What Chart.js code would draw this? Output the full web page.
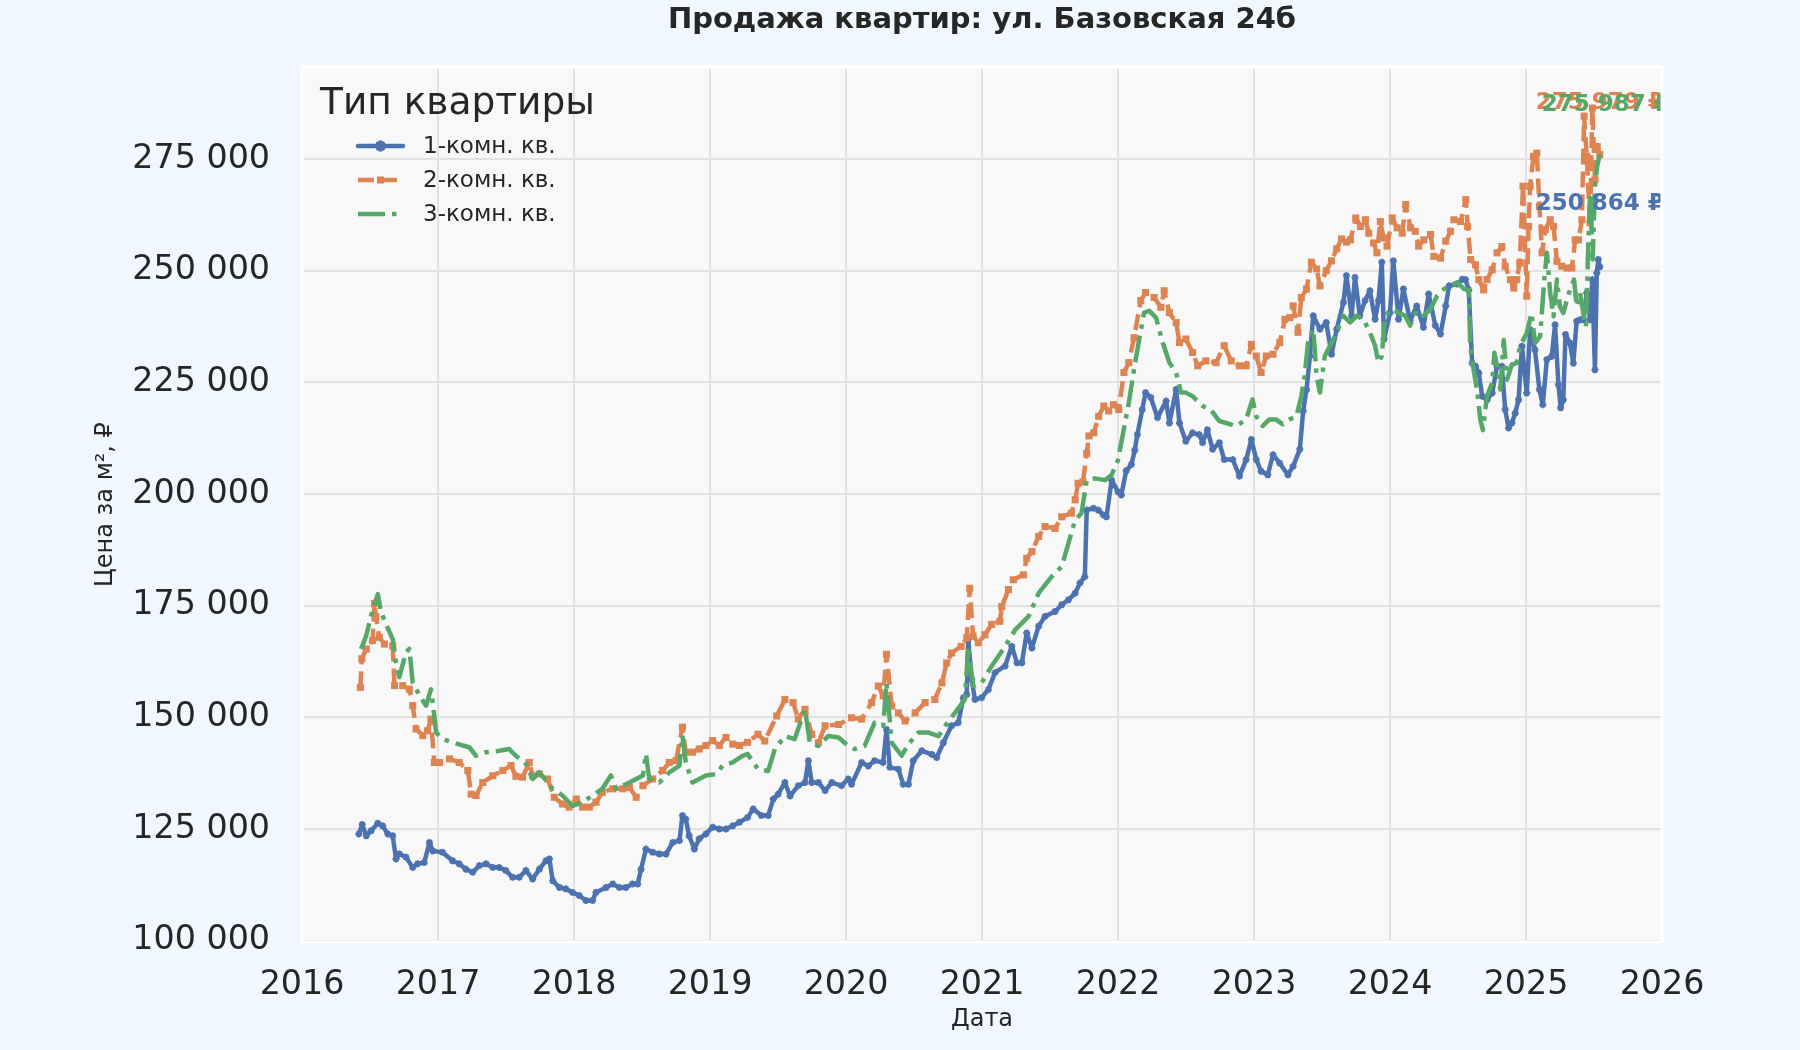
<!DOCTYPE html>
<html>
<head>
<meta charset="utf-8">
<script src="https://cdn.jsdelivr.net/npm/chart.js@4.4.1/dist/chart.umd.min.js"></script>
<style>
  html, body { margin: 0; padding: 0; background: #f0f7ff; }
  canvas { display: block; }
</style>
</head>
<body>
<canvas id="c" width="1800" height="1050"></canvas>
<script>
// ---------------- DATA ----------------
const chartTitle = 'Продажа квартир: ул. Базовская 24б';
const xAxisTitle = 'Дата';
const yAxisTitle = 'Цена за м², ₽';
const legendTitle = 'Тип квартиры';
const seriesNames = ['1-комн. кв.', '2-комн. кв.', '3-комн. кв.'];
const xTickYears = [2016, 2017, 2018, 2019, 2020, 2021, 2022, 2023, 2024, 2025, 2026];
const yTickValues = [100000, 125000, 150000, 175000, 200000, 225000, 250000, 275000];

const blueDates = [
'2016-06-02','2016-06-11','2016-06-22','2016-07-05','2016-07-23','2016-08-05','2016-08-19','2016-09-01','2016-09-10','2016-09-19',
'2016-10-07','2016-10-25','2016-11-07','2016-11-25','2016-12-09','2016-12-18','2017-01-13','2017-02-09','2017-02-27','2017-03-17',
'2017-04-04','2017-04-22','2017-05-10','2017-05-28','2017-06-14','2017-07-02','2017-07-20','2017-08-07','2017-08-25','2017-09-12',
'2017-09-30','2017-10-18','2017-10-27','2017-11-05','2017-11-23','2017-12-10','2017-12-28','2018-01-15','2018-02-02','2018-02-20',
'2018-03-01','2018-03-28','2018-04-15','2018-05-03','2018-05-20','2018-06-07','2018-06-21','2018-06-30','2018-07-13','2018-07-31',
'2018-08-18','2018-09-05','2018-09-23','2018-10-11','2018-10-19','2018-10-28','2018-11-06','2018-11-20','2018-12-03','2018-12-21',
'2019-01-08','2019-01-26','2019-02-13','2019-03-03','2019-03-21','2019-04-12','2019-04-27','2019-05-19','2019-06-06','2019-06-20',
'2019-07-03','2019-07-21','2019-08-04','2019-08-26','2019-09-13','2019-09-22','2019-10-01','2019-10-19','2019-11-06','2019-11-24',
'2019-12-20','2020-01-07','2020-01-16','2020-02-12','2020-03-01','2020-03-18','2020-04-10','2020-04-19','2020-04-28','2020-05-21',
'2020-06-03','2020-06-17','2020-06-30','2020-07-23','2020-08-19','2020-09-01','2020-09-19','2020-10-11','2020-10-29','2020-11-12',
'2020-11-21','2020-11-25','2020-12-04','2020-12-13','2020-12-31','2021-01-18','2021-02-05','2021-03-04','2021-03-22','2021-04-05',
'2021-04-18','2021-05-01','2021-05-15','2021-06-02','2021-06-19','2021-07-16','2021-08-03','2021-08-21','2021-09-08','2021-09-21',
'2021-10-04','2021-10-09','2021-10-27','2021-11-09','2021-11-23','2021-12-01','2021-12-15','2022-01-01','2022-01-10','2022-01-23',
'2022-02-06','2022-02-15','2022-02-22','2022-03-07','2022-03-16','2022-03-30','2022-04-17','2022-05-10','2022-05-19','2022-06-06',
'2022-06-15','2022-07-02','2022-07-20','2022-08-07','2022-08-16','2022-08-29','2022-09-12','2022-09-30','2022-10-13','2022-11-05',
'2022-11-23','2022-12-11','2022-12-25','2023-01-07','2023-01-20','2023-02-07','2023-02-21','2023-03-11','2023-04-02','2023-04-16',
'2023-05-04','2023-05-13','2023-05-22','2023-05-31','2023-06-09','2023-06-27','2023-07-14','2023-07-28','2023-08-11','2023-08-29',
'2023-09-06','2023-09-20','2023-09-29','2023-10-12','2023-10-26','2023-11-08','2023-11-22','2023-12-01','2023-12-10','2023-12-16',
'2024-01-01','2024-01-10','2024-01-24','2024-02-06','2024-02-24','2024-03-13','2024-03-31','2024-04-14','2024-05-02','2024-05-16',
'2024-05-30','2024-06-08','2024-06-30','2024-07-14','2024-07-22','2024-07-31','2024-08-09','2024-08-18','2024-08-27','2024-09-05',
'2024-09-18','2024-10-02','2024-10-15','2024-10-28','2024-11-06','2024-11-15','2024-11-24','2024-12-03','2024-12-12','2024-12-21',
'2025-01-03','2025-01-12','2025-01-25','2025-02-06','2025-02-15','2025-02-26','2025-03-11','2025-03-20','2025-03-29','2025-04-04',
'2025-04-11','2025-04-17','2025-04-29','2025-05-08','2025-05-17','2025-05-26','2025-06-04','2025-06-13','2025-06-22','2025-06-28',
'2025-07-05','2025-07-10','2025-07-14','2025-07-18'
];
const blueValues = [
123900,126000,123500,124600,126300,125700,123900,123500,118300,119400,
118700,116400,117200,117500,122000,120100,119800,117900,117200,116000,
115300,116800,117200,116400,116400,115700,114200,114200,115700,113800,
116000,117900,118300,113400,111900,111600,110800,110100,109000,109000,
110800,111900,112700,111900,111900,112700,112700,116000,120500,119800,
119400,119400,122000,122400,128000,127200,123500,120500,122800,123900,
125400,125000,125000,125700,126500,127600,129500,128000,128000,131700,
132800,135400,132400,134700,135400,140300,135400,135400,133600,135400,
134700,136200,135000,139900,139100,140300,139900,147300,138800,138400,
135000,135000,140300,142500,141700,141000,144300,148100,148800,154400,
155100,167400,158500,154000,154400,156200,160000,161500,165900,162200,
162200,168900,165500,170400,172600,173700,175200,176300,177800,180100,
181500,196400,196800,196400,195300,194900,203100,200500,199800,205200,
206600,209800,213300,218900,222700,221600,217100,220800,215900,223400,
215900,211800,213700,213300,211500,214400,210000,211500,207700,207700,
204000,207700,212200,207700,205100,204300,208800,206900,204300,206200,
210000,218600,223400,230900,239900,236900,238400,231300,236900,242900,
248900,239900,248500,239900,243300,245500,239100,243300,251900,234700,
240600,252200,239100,245900,238800,242100,237300,244800,237700,235800,
242100,246600,247000,248100,248000,245700,229300,228600,227100,221900,
221100,222600,228600,228600,218900,214800,215900,218100,221100,233100,
222600,236800,232300,223400,220000,230100,230800,237900,224500,219300,
221100,235700,233800,229300,238700,239000,239000,245000,239000,248000,
227800,249500,252500,250864
];

const orangeDates = [
'2016-06-06','2016-06-10','2016-06-22','2016-07-09','2016-07-14','2016-07-18','2016-07-27','2016-08-10','2016-09-01','2016-09-06',
'2016-09-28','2016-10-16','2016-10-25','2016-11-03','2016-11-21','2016-12-04','2016-12-13','2016-12-22','2017-01-05','2017-02-01',
'2017-02-27','2017-03-22','2017-03-31','2017-04-13','2017-05-01','2017-05-28','2017-06-24','2017-07-16','2017-07-29','2017-08-16',
'2017-09-03','2017-09-12','2017-09-30','2017-10-22','2017-11-09','2017-12-01','2017-12-19','2018-01-07','2018-01-24','2018-02-11',
'2018-03-01','2018-03-18','2018-04-15','2018-05-12','2018-05-30','2018-06-17','2018-07-05','2018-07-31','2018-08-27','2018-09-14',
'2018-10-02','2018-10-19','2018-10-28','2018-11-15','2018-12-03','2018-12-21','2019-01-08','2019-01-26','2019-02-13','2019-03-03',
'2019-03-21','2019-04-12','2019-05-10','2019-05-28','2019-06-29','2019-07-21','2019-08-12','2019-08-26','2019-09-13','2019-10-01',
'2019-10-19','2019-11-06','2019-12-12','2020-01-16','2020-02-12','2020-03-10','2020-03-28','2020-04-10','2020-04-19','2020-05-03',
'2020-05-21','2020-06-08','2020-07-05','2020-08-01','2020-08-27','2020-09-15','2020-09-28','2020-10-11','2020-11-06','2020-11-21',
'2020-11-29','2020-12-08','2020-12-22','2021-01-09','2021-01-27','2021-02-18','2021-02-23','2021-03-13','2021-03-26','2021-04-22',
'2021-05-01','2021-05-15','2021-06-02','2021-06-19','2021-07-16','2021-08-03','2021-08-29','2021-09-08','2021-09-16','2021-09-29',
'2021-10-09','2021-10-15','2021-10-28','2021-11-10','2021-11-24','2021-12-07','2021-12-20','2022-01-03','2022-01-17','2022-01-30',
'2022-02-13','2022-03-03','2022-03-16','2022-04-08','2022-04-26','2022-05-05','2022-05-19','2022-06-06','2022-06-15','2022-07-02',
'2022-07-20','2022-08-03','2022-08-25','2022-09-21','2022-10-13','2022-11-01','2022-11-23','2022-12-11','2022-12-25','2023-01-07',
'2023-01-20','2023-02-03','2023-02-21','2023-03-11','2023-03-25','2023-04-07','2023-04-16','2023-04-29','2023-05-08','2023-05-22',
'2023-06-04','2023-06-18','2023-06-27','2023-07-14','2023-07-28','2023-08-11','2023-08-24','2023-09-06','2023-09-17','2023-10-01',
'2023-10-14','2023-10-27','2023-11-05','2023-11-18','2023-11-27','2023-12-06','2023-12-15','2023-12-24','2024-01-07','2024-01-20',
'2024-02-03','2024-02-12','2024-02-25','2024-03-09','2024-03-18','2024-04-01','2024-04-19','2024-04-28','2024-05-16','2024-05-30',
'2024-06-12','2024-06-21','2024-07-09','2024-07-23','2024-07-28','2024-08-05','2024-08-18','2024-08-27','2024-09-09','2024-09-18',
'2024-10-02','2024-10-15','2024-10-28','2024-11-06','2024-11-20','2024-11-29','2024-12-07','2024-12-15','2024-12-24','2025-01-03',
'2025-01-08','2025-01-12','2025-01-21','2025-01-30','2025-02-06','2025-02-13','2025-02-22','2025-03-07','2025-03-16','2025-03-25',
'2025-04-07','2025-04-21','2025-05-04','2025-05-13','2025-05-22','2025-05-31','2025-06-06','2025-06-13','2025-06-22','2025-06-28',
'2025-07-05','2025-07-11','2025-07-18'
];
const orangeValues = [
156700,163100,165300,167200,175500,172500,167900,166400,166000,157100,
157100,156300,152600,147400,145900,147000,149600,139900,139900,140700,
139900,138100,132800,132500,135400,136900,138100,139200,136800,136600,
139900,136900,137300,136200,132100,130600,129900,131700,129900,129900,
131000,133200,134000,134000,134300,132100,134700,136200,138100,139900,
140300,147800,142200,142200,142900,143700,144800,143700,145500,144000,
143700,144400,146200,144700,150300,154000,153300,149600,151800,146200,
144300,148100,148400,149900,149600,153300,157000,154800,164100,152500,
151000,149200,151000,153300,154000,157700,162200,164400,165900,167800,
178900,168200,166700,168500,170800,171500,174800,178600,180800,181900,
185600,187100,190500,192700,192300,194900,195700,198700,202400,202700,
209100,213000,213700,217400,219700,218600,220000,218900,227200,229400,
235000,243300,245100,244000,241800,245500,240600,238400,233900,234700,
231700,228700,229800,229400,233200,229800,228700,228700,233500,230900,
227200,230900,231300,233900,239100,239500,242100,236200,244000,245900,
251900,250400,246600,250000,252200,254900,257100,256400,256900,261800,
259900,261400,258400,256200,254000,261000,257300,255500,261800,259600,
258400,264800,259600,258800,255500,256900,258100,253200,252800,256600,
258800,261400,261000,265900,259900,252500,251300,248000,245700,248000,
250200,254000,255400,251000,248000,246100,248000,251700,268900,244300,
259900,268900,275600,276300,264400,254000,259200,261400,259900,252100,
251000,250600,250600,256900,256900,261400,284600,275600,260700,286400,
270400,277800,275979
];

const greenDates = [
'2016-06-08','2016-06-22','2016-07-05','2016-07-23','2016-08-01','2016-08-14','2016-09-01','2016-09-10','2016-09-19','2016-10-07',
'2016-10-16','2016-10-25','2016-11-12','2016-11-30','2016-12-13','2016-12-22','2016-12-27','2017-01-13','2017-02-09','2017-03-08',
'2017-03-26','2017-04-13','2017-05-10','2017-06-14','2017-07-11','2017-07-29','2017-08-25','2017-09-12','2017-09-30','2017-11-05',
'2017-12-01','2017-12-28','2018-01-24','2018-02-20','2018-03-18','2018-04-10','2018-04-24','2018-05-30','2018-07-05','2018-07-13',
'2018-07-22','2018-08-18','2018-09-14','2018-10-11','2018-10-19','2018-10-28','2018-11-15','2018-12-03','2018-12-21','2019-01-17',
'2019-02-04','2019-03-03','2019-03-30','2019-04-12','2019-05-10','2019-06-06','2019-06-24','2019-07-21','2019-08-16','2019-09-13',
'2019-09-26','2019-10-19','2019-11-14','2019-12-12','2019-12-28','2020-01-24','2020-02-20','2020-03-18','2020-04-10','2020-04-19',
'2020-05-03','2020-05-30','2020-06-17','2020-07-14','2020-08-10','2020-09-06','2020-09-24','2020-10-20','2020-11-16','2020-11-25',
'2020-12-08','2020-12-31','2021-01-27','2021-03-04','2021-03-31','2021-05-06','2021-06-02','2021-07-07','2021-08-03','2021-08-21',
'2021-09-08','2021-09-25','2021-10-09','2021-10-31','2021-11-27','2021-12-15','2022-01-01','2022-01-30','2022-02-13','2022-02-27',
'2022-03-12','2022-03-26','2022-04-13','2022-05-01','2022-05-19','2022-06-06','2022-06-19','2022-07-02','2022-07-20','2022-08-16',
'2022-09-07','2022-09-30','2022-10-18','2022-11-14','2022-12-11','2022-12-28','2023-01-07','2023-01-24','2023-02-11','2023-03-01',
'2023-03-19','2023-04-07','2023-04-25','2023-05-08','2023-05-17','2023-05-26','2023-06-09','2023-06-18','2023-06-27','2023-07-10',
'2023-07-24','2023-08-11','2023-08-29','2023-09-16','2023-10-04','2023-10-22','2023-11-08','2023-11-22','2023-12-01','2023-12-10',
'2023-12-19','2024-01-06','2024-01-24','2024-02-11','2024-02-24','2024-03-13','2024-03-31','2024-04-19','2024-05-07','2024-05-25',
'2024-06-12','2024-06-30','2024-07-18','2024-07-31','2024-08-04','2024-08-13','2024-08-22','2024-08-31','2024-09-07','2024-09-18',
'2024-10-02','2024-10-08','2024-10-17','2024-10-24','2024-11-02','2024-11-11','2024-11-24','2024-12-07','2024-12-16','2024-12-27',
'2025-01-03','2025-01-16','2025-01-25','2025-02-08','2025-02-19','2025-02-26','2025-03-07','2025-03-16','2025-03-25','2025-04-02',
'2025-04-11','2025-04-21','2025-04-29','2025-05-10','2025-05-17','2025-05-26','2025-06-04','2025-06-11','2025-06-17','2025-06-22',
'2025-06-29','2025-07-05','2025-07-11','2025-07-18'
];
const greenValues = [
165300,168300,172800,177600,173500,170900,167500,162300,159000,164600,
165300,157800,154900,152600,156300,150400,146600,145200,144400,143700,
143300,141400,142200,142500,142900,141400,139600,136200,137700,134000,
132500,130200,131000,132500,134000,137000,134000,135400,137000,141800,
136200,135400,137700,139200,145900,139900,135400,136200,137000,137300,
139200,139900,141400,141800,138400,138000,142900,145800,145100,151800,
144300,143600,145800,145500,144300,142900,143600,148800,148100,157700,
144300,141400,144000,146600,146600,145800,148100,151000,154000,165900,
157000,157700,161500,165900,169600,172600,177800,181500,183800,189000,
194200,195700,203100,203500,203100,204300,207600,220400,227900,234700,
240600,241000,239500,233900,229400,227200,222700,222700,221900,219700,
218900,216300,215900,215200,216700,221200,217400,215200,216700,216700,
215600,216700,217400,221900,226400,233900,236900,226400,222700,230900,
233200,236200,239900,238400,239900,239100,236200,233200,229400,230900,
239900,241400,240600,239900,237700,241000,239900,241400,244400,245900,
246600,247400,245900,245700,233100,227800,223400,216700,214300,221900,
224900,231600,227800,223400,234500,225600,229000,229300,233100,234900,
236000,240500,233800,235300,248000,254000,245000,239800,248000,242000,
240500,243500,245700,248000,242000,245000,240500,237500,255400,267400,
252500,268900,273400,275987
];

// ---------------- STYLE ----------------
const FONT = '"DejaVu Sans", "Noto Sans", sans-serif';
const TEXT_COLOR = '#262626';
const FIG_BG = '#f0f7ff';
const AX_BG = '#f8f8f8';
const GRID = '#e2e2e2';
const seriesStyle = [
  { color: '#4c72b0', dash: [], pointStyle: 'star', radius: 3.5, pointBorder: 2, order: 3, labelDx: 0, labelDy: -63 },
  { color: '#dd8452', dash: [16, 7], pointStyle: 'rect', radius: 5, pointBorder: 0, order: 2, labelDx: 0, labelDy: -52 },
  { color: '#55a868', dash: [27, 7, 4.5, 7], pointStyle: 'circle', radius: 0, pointBorder: 0, order: 1, labelDx: 6, labelDy: -50 }
];

// ---------------- HELPERS ----------------
function toYear(s) {
  const p = s.split('-').map(Number);
  const t = Date.UTC(p[0], p[1] - 1, p[2]);
  const t0 = Date.UTC(p[0], 0, 1), t1 = Date.UTC(p[0] + 1, 0, 1);
  return p[0] + (t - t0) / (t1 - t0);
}
function fmtNum(v) {
  return String(Math.round(v)).replace(/\B(?=(\d{3})+(?!\d))/g, ' ');
}
function pts(dates, values) {
  return dates.map((d, i) => ({ x: toYear(d), y: values[i] }));
}

const seriesDates = [blueDates, orangeDates, greenDates];
const seriesValues = [blueValues, orangeValues, greenValues];

const datasets = seriesNames.map((name, i) => {
  const st = seriesStyle[i];
  return {
    label: name,
    data: pts(seriesDates[i], seriesValues[i]),
    borderColor: st.color,
    backgroundColor: st.color,
    borderWidth: 4.5,
    borderDash: st.dash,
    borderJoinStyle: 'round',
    borderCapStyle: i === 0 ? 'round' : 'butt',
    pointStyle: st.pointStyle,
    pointRadius: st.radius,
    pointBorderWidth: st.pointBorder,
    pointBorderColor: st.color,
    pointBackgroundColor: st.color,
    pointHoverRadius: st.radius,
    tension: 0,
    fill: false,
    order: st.order
  };
});

// ---------------- PLUGINS ----------------
const decorPlugin = {
  id: 'decor',
  beforeDraw(chart) {
    const ctx = chart.ctx, a = chart.chartArea;
    ctx.save();
    ctx.fillStyle = FIG_BG;
    ctx.fillRect(0, 0, chart.width, chart.height);
    ctx.fillStyle = AX_BG;
    ctx.fillRect(a.left, a.top, a.right - a.left, a.bottom - a.top);
    ctx.restore();
  },
  afterDatasetsDraw(chart) {
    const ctx = chart.ctx, a = chart.chartArea;
    const xs = chart.scales.x, ys = chart.scales.y;
    ctx.save();
    ctx.beginPath();
    ctx.rect(a.left, a.top, a.right - a.left, a.bottom - a.top);
    ctx.clip();
    ctx.font = 'bold 23px ' + FONT;
    ctx.textAlign = 'center';
    ctx.textBaseline = 'middle';
    [0, 1, 2].forEach(i => {
      const d = seriesDates[i], v = seriesValues[i];
      const last = v[v.length - 1];
      const px = xs.getPixelForValue(toYear(d[d.length - 1])) + seriesStyle[i].labelDx;
      const py = ys.getPixelForValue(last) + seriesStyle[i].labelDy;
      ctx.fillStyle = seriesStyle[i].color;
      ctx.fillText(fmtNum(last) + ' ₽', px, py);
    });
    ctx.restore();
    ctx.save();
    ctx.strokeStyle = '#ffffff';
    ctx.lineWidth = 3;
    ctx.strokeRect(a.left, a.top, a.right - a.left, a.bottom - a.top);
    ctx.restore();
  },
  afterDraw(chart) {
    const ctx = chart.ctx, a = chart.chartArea;
    const cx = (a.left + a.right) / 2, cy = (a.top + a.bottom) / 2;
    ctx.save();
    ctx.fillStyle = TEXT_COLOR;
    ctx.textBaseline = 'middle';
    ctx.textAlign = 'center';
    ctx.font = 'bold 29px ' + FONT;
    ctx.fillText(chartTitle, cx, 20);
    ctx.font = '24px ' + FONT;
    ctx.fillText(xAxisTitle, cx, 1020);
    ctx.save();
    ctx.translate(106, cy);
    ctx.rotate(-Math.PI / 2);
    ctx.fillText(yAxisTitle, 0, 0);
    ctx.restore();
    ctx.textAlign = 'left';
    ctx.font = '37.5px ' + FONT;
    ctx.fillText(legendTitle, a.left + 18, 104);
    ctx.font = '23px ' + FONT;
    const rows = [146, 180, 214];
    const hx0 = a.left + 56, hx1 = a.left + 101;
    chart.data.datasets.forEach((ds, i) => {
      const y = rows[i];
      ctx.save();
      ctx.strokeStyle = ds.borderColor;
      ctx.lineWidth = ds.borderWidth;
      ctx.lineCap = ds.borderCapStyle;
      ctx.setLineDash(ds.borderDash);
      ctx.beginPath();
      ctx.moveTo(hx0, y);
      ctx.lineTo(hx1, y);
      ctx.stroke();
      ctx.setLineDash([]);
      if (ds.pointRadius > 0) {
        ctx.fillStyle = ds.pointBackgroundColor;
        ctx.strokeStyle = ds.pointBorderColor;
        Chart.helpers.drawPoint(ctx, {
          pointStyle: ds.pointStyle, radius: ds.pointRadius,
          borderWidth: ds.pointBorderWidth, rotation: 0
        }, (hx0 + hx1) / 2, y);
      }
      ctx.restore();
      ctx.fillStyle = TEXT_COLOR;
      ctx.fillText(ds.label, a.left + 121, y + 1);
    });
    ctx.restore();
  }
};

// ---------------- CHART ----------------
Chart.defaults.font.family = FONT;
new Chart(document.getElementById('c'), {
  type: 'line',
  data: { datasets },
  plugins: [decorPlugin],
  options: {
    responsive: false,
    animation: false,
    devicePixelRatio: 1,
    layout: { padding: { top: 67, right: 138, bottom: 0, left: 0 } },
    plugins: { legend: { display: false }, title: { display: false }, tooltip: { enabled: false } },
    scales: {
      x: {
        type: 'linear',
        min: 2016, max: 2026,
        afterFit(scale) { scale.height = 108; },
        afterBuildTicks(scale) { scale.ticks = xTickYears.map(v => ({ value: v })); },
        ticks: {
          autoSkip: false, maxRotation: 0, padding: 23,
          color: TEXT_COLOR, font: { size: 33.3, family: FONT },
          callback: v => String(v)
        },
        grid: { color: GRID, lineWidth: 2, drawTicks: false },
        border: { display: false }
      },
      y: {
        type: 'linear',
        min: 99700, max: 295600,
        afterFit(scale) { scale.width = 302; },
        afterBuildTicks(scale) { scale.ticks = yTickValues.map(v => ({ value: v })); },
        ticks: {
          padding: 32,
          color: TEXT_COLOR, font: { size: 33.3, family: FONT },
          callback: v => fmtNum(v)
        },
        grid: { color: GRID, lineWidth: 2, drawTicks: false },
        border: { display: false }
      }
    }
  }
});
</script>
</body>
</html>
